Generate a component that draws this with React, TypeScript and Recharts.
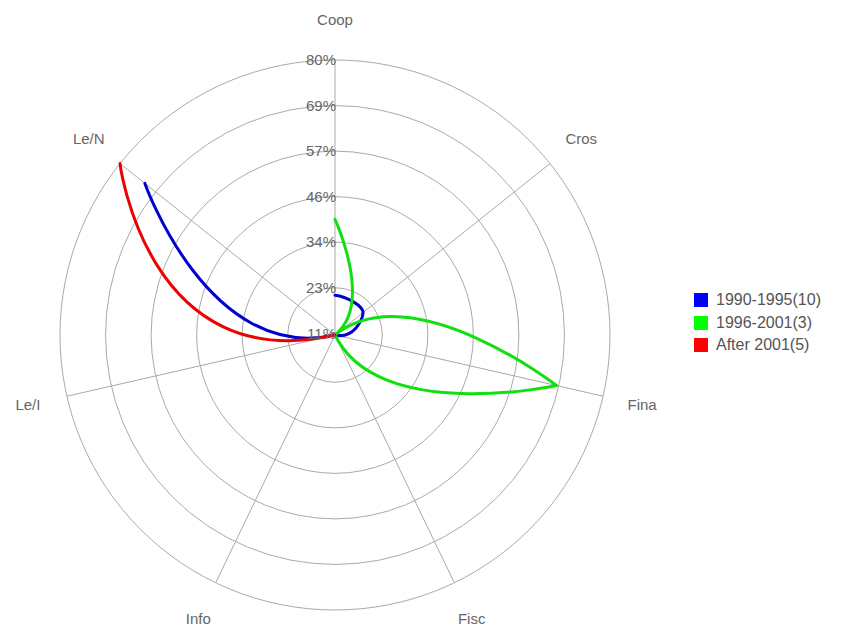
import { RadarChart, Radar, PolarGrid, PolarAngleAxis, PolarRadiusAxis, Legend } from "recharts";

const axes = ["Coop", "Cros", "Fina", "Fisc", "Info", "Le/I", "Le/N"];
const early = [21, 20, 0, 0, 0, 0, 72]; // 1990-1995(10)
const middle = [40, 0, 68, 0, 0, 0, 0]; // 1996-2001(3)
const late = [0, 0, 0, 0, 0, 0, 80]; // After 2001(5)
const radiusTicks = [11.43, 22.86, 34.29, 45.71, 57.14, 68.57, 80];

const data = axes.map((axis, i) => ({
  axis,
  early: early[i],
  middle: middle[i],
  late: late[i],
}));

const series = [
  { key: "early", name: "1990-1995(10)", color: "#0000d0", legend: "#0000ff", bulge: 1.6 },
  { key: "middle", name: "1996-2001(3)", color: "#10e010", legend: "#00ff00", bulge: 1.3 },
  { key: "late", name: "After 2001(5)", color: "#ee0000", legend: "#ff0000", bulge: 2.1 },
];

const CX = 335;
const CY = 335;
const OUTER = 275;
const LABEL_R = 315;
const RAD = Math.PI / 180;
const FONT = "'Liberation Sans', Arial, sans-serif";

// smooth petal line: points at the centre leave/arrive along their own spoke
function petalShape(bulge: number, color: string) {
  return (props: any) => {
    const pts = (props.points || []).map((p: any) => {
      const r = Math.max(0, p.radius);
      const ux = Math.cos(-p.angle * RAD);
      const uy = Math.sin(-p.angle * RAD);
      return { x: p.cx + r * ux, y: p.cy + r * uy, r, ux, uy, a: p.angle };
    });
    const n = pts.length;
    // forward tangent at point i, j is the other end of the segment
    const tan = (i: number, j: number) => {
      const p = pts[i];
      const q = pts[j];
      if (p.r === 0) {
        const m = bulge * q.r;
        const s = j > i ? 1 : -1;
        return { x: s * m * p.ux, y: s * m * p.uy };
      }
      if (i === 0 || i === n - 1) {
        if (q.r === 0) return { x: 0, y: 0 };
        const s = j > i ? 1 : -1;
        const dr = s * (q.r - p.r);
        const arc = p.r * Math.abs(p.a - q.a) * RAD;
        return {
          x: dr * p.ux + arc * Math.sin(p.a * RAD),
          y: dr * p.uy + arc * Math.cos(p.a * RAD),
        };
      }
      return { x: (pts[i + 1].x - pts[i - 1].x) / 2, y: (pts[i + 1].y - pts[i - 1].y) / 2 };
    };
    let d = "";
    let open = false;
    for (let i = 0; i < n - 1; i++) {
      const a = pts[i];
      const b = pts[i + 1];
      if (a.r === 0 && b.r === 0) {
        open = false;
        continue;
      }
      const t0 = tan(i, i + 1);
      const t1 = tan(i + 1, i);
      if (!open) d += `M${a.x},${a.y}`;
      d += `C${a.x + t0.x / 3},${a.y + t0.y / 3} ${b.x - t1.x / 3},${b.y - t1.y / 3} ${b.x},${b.y}`;
      open = true;
    }
    return <path d={d} fill="none" stroke={color} strokeWidth={3} strokeLinecap="round" strokeLinejoin="round" />;
  };
}

function AngleTick({ payload }: any) {
  const a = -payload.coordinate * RAD;
  return (
    <text
      x={CX + LABEL_R * Math.cos(a)}
      y={CY + LABEL_R * Math.sin(a)}
      dy="0.35em"
      textAnchor="middle"
      fill="#666"
      fontSize={15}
      fontFamily={FONT}
    >
      {payload.value}
    </text>
  );
}

function RadiusTick({ x, y, payload }: any) {
  return (
    <text x={x + 1} y={y} dy="0.35em" textAnchor="end" fill="#666" fontSize={15} fontFamily={FONT}>
      {Math.round(payload.value)}%
    </text>
  );
}

function LegendBox() {
  return (
    <div style={{ fontFamily: FONT, fontSize: 16, color: "#555" }}>
      {series.map((s) => (
        <div key={s.key} style={{ display: "flex", alignItems: "center", height: 22.5, whiteSpace: "nowrap" }}>
          <span style={{ width: 14, height: 14, background: s.legend, marginRight: 8, flexShrink: 0 }} />
          <span>{s.name}</span>
        </div>
      ))}
    </div>
  );
}

export default function App() {
  return (
    <div style={{ position: "absolute", left: 0, top: 0, width: 844, height: 630, background: "#fff", overflow: "hidden" }}>
      <RadarChart
        width={844}
        height={630}
        data={data}
        cx={CX}
        cy={CY}
        outerRadius={OUTER}
        margin={{ top: 0, right: 0, bottom: 0, left: 0 }}
      >
        <PolarGrid gridType="circle" stroke="#aaa" strokeWidth={1} />
        <PolarAngleAxis dataKey="axis" tick={AngleTick} tickLine={false} axisLine={false} />
        <PolarRadiusAxis
          angle={90}
          domain={[11.43, 80]}
          ticks={radiusTicks}
          allowDataOverflow
          axisLine={false}
          tickLine={false}
          tick={RadiusTick}
        />
        {series.map((s) => (
          <Radar
            key={s.key}
            dataKey={s.key}
            name={s.name}
            stroke={s.color}
            fill="none"
            dot={false}
            isAnimationActive={false}
            shape={petalShape(s.bulge, s.color)}
          />
        ))}
        <Legend
          content={LegendBox}
          wrapperStyle={{ position: "absolute", left: 694, top: 289, width: 150 }}
        />
      </RadarChart>
    </div>
  );
}
